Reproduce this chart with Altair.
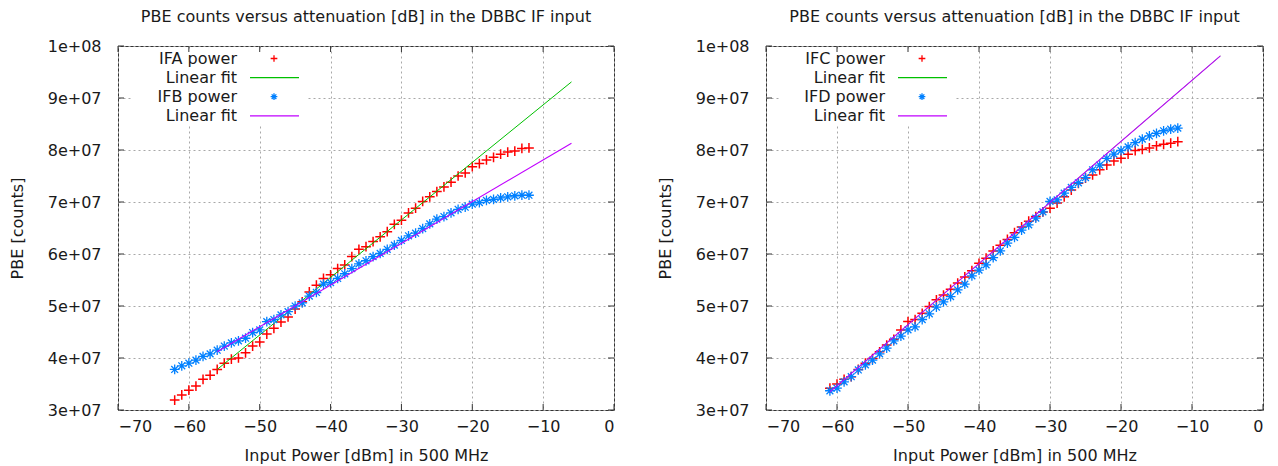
import altair as alt
import pandas as pd

# ---------------- data (PBE values in units of 1e7 counts) ----------------
ifa_x = list(range(-62, -11))
ifa_pbe = [3.19, 3.29, 3.38, 3.46, 3.59, 3.67, 3.78, 3.90, 3.98, 4.00,
           4.10, 4.23, 4.31, 4.46, 4.57, 4.69, 4.79, 4.94, 5.08, 5.27,
           5.40, 5.53, 5.60, 5.72, 5.79, 5.95, 6.09, 6.14, 6.24, 6.33,
           6.43, 6.57, 6.65, 6.79, 6.88, 7.01, 7.10, 7.20, 7.29, 7.38,
           7.50, 7.56, 7.68, 7.74, 7.81, 7.86, 7.92, 7.96, 7.98, 8.03,
           8.04]
ifb_x = list(range(-62, -11))
ifb_pbe = [3.78, 3.85, 3.90, 3.96, 4.03, 4.08, 4.15, 4.23, 4.29, 4.33,
           4.38, 4.49, 4.54, 4.70, 4.74, 4.83, 4.89, 5.00, 5.06, 5.19,
           5.26, 5.42, 5.45, 5.53, 5.62, 5.72, 5.81, 5.87, 5.95, 6.01,
           6.09, 6.17, 6.26, 6.35, 6.40, 6.49, 6.58, 6.67, 6.72, 6.79,
           6.86, 6.90, 6.96, 6.99, 7.03, 7.05, 7.08, 7.10, 7.12, 7.13,
           7.13]
ifc_x = list(range(-61, -11))
ifc_pbe = [3.42, 3.50, 3.59, 3.64, 3.78, 3.90, 3.99, 4.12, 4.25, 4.36,
           4.54, 4.70, 4.74, 4.86, 4.99, 5.12, 5.21, 5.32, 5.44, 5.56,
           5.68, 5.82, 5.92, 6.06, 6.17, 6.28, 6.41, 6.52, 6.63, 6.72,
           6.81, 6.88, 6.98, 7.10, 7.23, 7.36, 7.46, 7.52, 7.62, 7.71,
           7.79, 7.84, 7.92, 7.99, 8.01, 8.04, 8.08, 8.11, 8.13, 8.16]
ifd_x = list(range(-61, -11))
ifd_pbe = [3.37, 3.42, 3.54, 3.64, 3.77, 3.87, 3.96, 4.08, 4.19, 4.33,
           4.42, 4.54, 4.60, 4.74, 4.85, 4.98, 5.08, 5.18, 5.31, 5.42,
           5.58, 5.69, 5.79, 5.93, 6.06, 6.21, 6.32, 6.46, 6.56, 6.69,
           6.81, 7.01, 7.04, 7.17, 7.28, 7.37, 7.47, 7.62, 7.71, 7.84,
           7.92, 7.99, 8.06, 8.14, 8.21, 8.27, 8.32, 8.37, 8.40, 8.42]

# linear fit end points
fit_a_x = [-56, -6]
fit_a_pbe = [3.78, 9.31]
fit_b_x = [-56, -6]
fit_b_pbe = [4.12, 8.13]
fit_c_x = [-61, -6]
fit_c_pbe = [3.35, 9.81]
fit_d_x = [-61, -6]
fit_d_pbe = [3.35, 9.81]

x_ticks = [-70, -60, -50, -40, -30, -20, -10, 0]
y_ticks = [3e7, 4e7, 5e7, 6e7, 7e7, 8e7, 9e7, 1e8]

TITLE = "PBE counts versus attenuation [dB] in the DBBC IF input"
XTITLE = "Input Power [dBm] in 500 MHz"
YTITLE = "PBE [counts]"

FONT = "DejaVu Sans"
FS = 16
TXT = "#1a1a1a"
RED = "#ff0000"
GREEN = "#00c000"
BLUE = "#0080ff"
PURPLE = "#c000ff"
BORDER = "#333333"
PLUS = "M-1,0L1,0M0,-1L0,1"
STAR = "M-1,0L1,0M0,-1L0,1M-0.7,-0.7L0.7,0.7M-0.7,0.7L0.7,-0.7"
H = 364


def frame(xs, ys):
    return pd.DataFrame({"x": xs, "y": [v * 1e7 for v in ys]})


def panel(width, pts1, fit1, pts2, fit2, lab1, lab2, green_w):
    xs = alt.X("x:Q", scale=alt.Scale(domain=[-70, 0], nice=False),
               axis=alt.Axis(values=x_ticks, title=XTITLE, grid=True))
    ys = alt.Y("y:Q", scale=alt.Scale(domain=[3e7, 1e8], nice=False, zero=False),
               axis=alt.Axis(values=y_ticks, title=YTITLE, grid=True,
                             labelExpr="datum.value >= 1e8 ? '1e+08' : round(datum.value/1e7) + 'e+07'"))

    p1 = alt.Chart(pts1).mark_point(shape=PLUS, filled=False, strokeWidth=1.5,
                                    size=95, color=RED, opacity=1).encode(x=xs, y=ys)
    l1 = alt.Chart(fit1).mark_line(color=GREEN, strokeWidth=green_w).encode(x="x:Q", y="y:Q")
    p2 = alt.Chart(pts2).mark_point(shape=STAR, filled=False, strokeWidth=1.3,
                                    size=95, color=BLUE, opacity=1).encode(x="x:Q", y="y:Q")
    l2 = alt.Chart(fit2).mark_line(color=PURPLE, strokeWidth=1.1).encode(x="x:Q", y="y:Q")

    # opaque key box
    box = alt.Chart(pd.DataFrame({"k": [0]})).mark_rect(color="white").encode(
        x=alt.value(13), x2=alt.value(190), y=alt.value(3), y2=alt.value(78))

    # inward tick marks (gnuplot style)
    xt = pd.DataFrame({"x": x_ticks})
    yt = pd.DataFrame({"y": y_ticks})
    tb = alt.Chart(xt).mark_rule(color=BORDER).encode(x="x:Q", y=alt.value(H - 6), y2=alt.value(H))
    tt = alt.Chart(xt).mark_rule(color=BORDER).encode(x="x:Q", y=alt.value(0), y2=alt.value(6))
    tl = alt.Chart(yt).mark_rule(color=BORDER).encode(y="y:Q", x=alt.value(0), x2=alt.value(6))
    tr = alt.Chart(yt).mark_rule(color=BORDER).encode(y="y:Q", x=alt.value(width - 6), x2=alt.value(width))

    key = []
    rows = [(lab1, "pt", RED, PLUS), ("Linear fit", "ln", GREEN, None),
            (lab2, "pt", BLUE, STAR), ("Linear fit", "ln", PURPLE, None)]
    base = alt.Chart(pd.DataFrame({"k": [0]}))
    for i, (txt, kind, col, shp) in enumerate(rows):
        yy = 12.5 + 19.1 * i
        key.append(base.mark_text(text=txt, align="right", baseline="middle",
                                  font=FONT, fontSize=FS, color=TXT).encode(
            x=alt.value(119), y=alt.value(yy)))
        if kind == "pt":
            key.append(base.mark_point(shape=shp, filled=False, strokeWidth=1.3,
                                       size=45, color=col, opacity=1).encode(
                x=alt.value(156), y=alt.value(yy)))
        else:
            key.append(base.mark_rule(color=col, strokeWidth=1.2).encode(
                x=alt.value(132), x2=alt.value(181), y=alt.value(yy)))

    return alt.layer(p1, l1, p2, l2, box, tb, tt, tl, tr, *key).properties(
        width=width, height=H,
        title=alt.TitleParams(TITLE, font=FONT, fontSize=FS, fontWeight="normal",
                              color=TXT, offset=13))


left = panel(496, frame(ifa_x, ifa_pbe), frame(fit_a_x, fit_a_pbe),
             frame(ifb_x, ifb_pbe), frame(fit_b_x, fit_b_pbe), "IFA power", "IFB power", 1)
right = panel(497, frame(ifc_x, ifc_pbe), frame(fit_c_x, fit_c_pbe),
              frame(ifd_x, ifd_pbe), frame(fit_d_x, fit_d_pbe), "IFC power", "IFD power", 0.6)

chart = alt.hconcat(left, right, spacing=41).properties(
    padding={"left": 0, "top": 0, "right": 0, "bottom": 0}
).configure_view(
    stroke=BORDER, strokeWidth=1
).configure_axis(
    domain=False, ticks=False, grid=True, gridColor="#a8a8a8", gridDash=[2, 3],
    gridWidth=1, labelFont=FONT, labelFontSize=FS, labelColor=TXT,
    titleFont=FONT, titleFontSize=FS, titleFontWeight="normal", titleColor=TXT
).configure_axisX(
    labelPadding=8, titlePadding=13
).configure_axisY(
    labelPadding=17, titlePadding=22
)

chart.save("out.html", embed_options={"renderer": "svg", "actions": False})
